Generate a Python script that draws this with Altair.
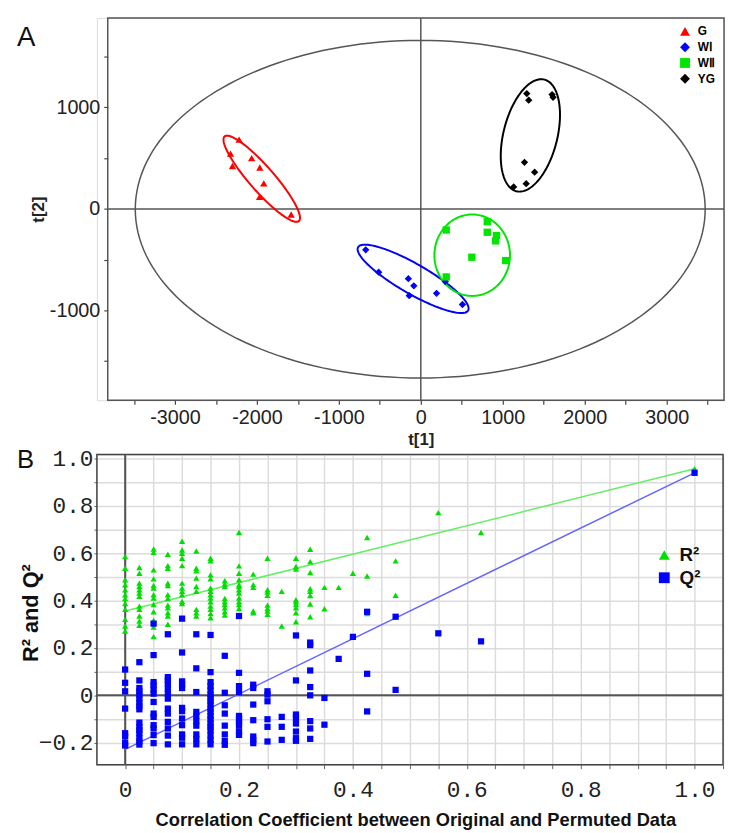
import numpy as np
import pandas as pd
import altair as alt

# ---------------- Panel A: PCA score plot ----------------
group_names = ["G", "WⅠ", "WⅡ", "YG"]
group_colors = ["#ff0000", "#0000ff", "#00e600", "#000000"]
group_shapes = ["triangle-up", "diamond", "square", "diamond"]

g_t1 = [-2217, -2322, -2298, -2064, -1964, -1916, -1967, -1582]
g_t2 = [683, 544, 423, 501, 408, 252, 119, -55]
wi_t1 = [-672, -514, -152, -85, -141, 192, 508, 299]
wi_t2 = [-403, -623, -687, -758, -855, -832, -942, -716]
wii_t1 = [310, 811, 811, 924, 912, 623, 1036, 310]
wii_t2 = [-208, -126, -230, -262, -315, -476, -509, -670]
yg_t1 = [1293, 1317, 1602, 1614, 1265, 1389, 1133, 1286]
yg_t2 = [1136, 1071, 1126, 1100, 459, 362, 217, 249]

# ellipses: centre and two half-axis vectors, in data units
ellipse_names = ["Hotelling", "G", "WⅠ", "WⅡ", "YG"]
ellipse_c1 = [-7, -1941, -94, 627, 1337]
ellipse_c2 = [-3, 297, -689, -456, 724]
ellipse_a1 = [3477, 453, 671, 461, 170]
ellipse_a2 = [0, -417, -312, 0, 550]
ellipse_b1 = [0, 113, 91, 0, 319]
ellipse_b2 = [1663, 80, 127, 401, -64]
ellipse_colors = ["#555555", "#ff0000", "#0000ff", "#00e600", "#000000"]
ellipse_widths = [1.5, 2, 2, 2, 2]

# ---------------- Panel B: permutation test ----------------
perm_x = [0.0, 0.025, 0.05, 0.075, 0.1, 0.125, 0.15, 0.175, 0.2, 0.225, 0.25,
          0.275, 0.3, 0.325, 0.35, 0.375, 0.4, 0.425, 0.475, 0.55, 0.625, 1.0]
r2_perm = [
    [0.586, 0.537, 0.488, 0.467, 0.446, 0.425, 0.409, 0.388, 0.363, 0.321, 0.293, 0.272],
    [0.540, 0.516, 0.474, 0.460, 0.446, 0.432, 0.418, 0.377, 0.363, 0.335, 0.314, 0.296],
    [0.618, 0.604, 0.530, 0.492, 0.464, 0.453, 0.425, 0.411, 0.384, 0.353, 0.317, 0.289, 0.248],
    [0.596, 0.548, 0.537, 0.474, 0.464, 0.425, 0.409, 0.381, 0.370, 0.349, 0.335, 0.300],
    [0.651, 0.614, 0.600, 0.579, 0.548, 0.474, 0.453, 0.439, 0.425, 0.397, 0.388],
    [0.610, 0.537, 0.526, 0.495, 0.460, 0.439, 0.363, 0.349, 0.335],
    [0.579, 0.568, 0.509, 0.492, 0.453, 0.439, 0.425, 0.411, 0.395, 0.377, 0.363, 0.345, 0.328],
    [0.484, 0.470, 0.460, 0.409, 0.395, 0.384, 0.370, 0.353, 0.339],
    [0.688, 0.547, 0.516, 0.488, 0.467, 0.460, 0.446, 0.432, 0.411, 0.395, 0.384, 0.367],
    [0.512, 0.467, 0.456, 0.356, 0.349],
    [0.579, 0.446, 0.436, 0.423, 0.381, 0.367, 0.356, 0.342],
    [0.439, 0.293],
    [0.579, 0.544, 0.533, 0.404, 0.395, 0.384, 0.370, 0.349, 0.311],
    [0.617, 0.565, 0.519, 0.450, 0.439, 0.422, 0.386, 0.332],
    [0.456, 0.366],
    [0.456],
    [0.516],
    [0.667, 0.504, 0.345],
    [0.568, 0.423],
    [0.772],
    [0.688],
    [0.957],
]
q2_perm = [
    [0.109, 0.053, 0.017, -0.056, -0.160, -0.174, -0.202, -0.212],
    [0.140, 0.063, 0.031, 0.017, 0.003, -0.014, -0.031, -0.045, -0.059, -0.115, -0.133, -0.147, -0.160, -0.181, -0.195, -0.208],
    [0.303, 0.170, 0.056, 0.042, 0.025, 0.007, -0.028, -0.077, -0.091, -0.126, -0.140, -0.168, -0.202],
    [0.258, 0.077, 0.063, 0.049, 0.028, 0.007, -0.014, -0.056, -0.077, -0.112, -0.140, -0.170, -0.207],
    [0.324, 0.181, 0.059, 0.045, 0.031, -0.053, -0.067, -0.098, -0.126, -0.165, -0.179, -0.207],
    [0.258, 0.114, 0.014, -0.070, -0.087, -0.109, -0.128, -0.165, -0.184, -0.207],
    [0.255, 0.098, 0.056, 0.039, 0.021, 0.003, -0.011, -0.025, -0.039, -0.056, -0.070, -0.087, -0.101, -0.119, -0.133, -0.147, -0.168, -0.188, -0.207],
    [0.167, 0.011, -0.042, -0.077, -0.128, -0.165, -0.193, -0.209],
    [0.335, 0.095, 0.039, 0.014, -0.087, -0.101, -0.115, -0.128, -0.153, -0.167],
    [0.045, 0.031, -0.039, -0.105, -0.174, -0.188, -0.202],
    [0.017, 0.003, -0.025, -0.101, -0.133, -0.195],
    [-0.091, -0.133, -0.188],
    [0.253, 0.063, -0.081, -0.095, -0.119, -0.153, -0.181, -0.192],
    [0.223, 0.212, 0.105, 0.035, 0.000, -0.109, -0.140, -0.184],
    [-0.011, -0.124],
    [0.154],
    [0.247],
    [0.353, 0.091, -0.068],
    [0.332, 0.023],
    [0.262],
    [0.228],
    [0.940],
]
series_names = ["R²", "Q²"]
series_colors = ["#00e000", "#0000ff"]
series_shapes = ["triangle-up", "square"]
fit_names = ["R² fit", "Q² fit"]
line_x = [0.0, 1.0]
r2_line = [0.356, 0.957]
q2_line = [-0.228, 0.940]
line_colors = ["#66ee66", "#6666ff"]

# ---------------- build tables ----------------
score_df = pd.DataFrame({
    "t1": g_t1 + wi_t1 + wii_t1 + yg_t1,
    "t2": g_t2 + wi_t2 + wii_t2 + yg_t2,
    "group": [group_names[0]] * len(g_t1) + [group_names[1]] * len(wi_t1)
             + [group_names[2]] * len(wii_t1) + [group_names[3]] * len(yg_t1),
})

theta = np.linspace(0, 2 * np.pi, 181)
ell_rows = []
for i, nm in enumerate(ellipse_names):
    for k, t in enumerate(theta):
        ell_rows.append({
            "name": nm, "k": k, "w": ellipse_widths[i],
            "t1": ellipse_c1[i] + ellipse_a1[i] * np.cos(t) + ellipse_b1[i] * np.sin(t),
            "t2": ellipse_c2[i] + ellipse_a2[i] * np.cos(t) + ellipse_b2[i] * np.sin(t),
        })
ell_df = pd.DataFrame(ell_rows)

perm_rows = []
for x, vals in zip(perm_x, r2_perm):
    for v in vals:
        perm_rows.append({"cc": x, "val": v, "series": series_names[0]})
for x, vals in zip(perm_x, q2_perm):
    for v in vals:
        perm_rows.append({"cc": x, "val": v, "series": series_names[1]})
perm_df = pd.DataFrame(perm_rows)

line_df = pd.DataFrame({
    "cc": line_x + line_x,
    "val": r2_line + q2_line,
    "fit": [fit_names[0]] * 2 + [fit_names[1]] * 2,
})

FONT = "Liberation Sans"
MONO = "Liberation Mono"

# ---------------- Panel A chart ----------------
WA, HA = 635, 387
A_LEFT = 11
xdomA = [-3820, 3700]
ydomA = [-1885, 1880]

scAx = alt.Scale(domain=xdomA, range=[A_LEFT, WA], nice=False, zero=False)
scAy = alt.Scale(domain=ydomA, nice=False, zero=False)
axAx = alt.Axis(values=list(range(-3500, 3501, 500)),
                labelExpr="datum.value % 1000 === 0 ? toString(datum.value) : ''",
                grid=False, domain=False, tickSize=4, tickColor="#444444", tickWidth=1.2,
                labelFont=FONT, labelFontSize=20, labelColor="#222222", labelPadding=4,
                title="t[1]", titleFont=FONT, titleFontSize=17, titleFontWeight="bold",
                titleColor="#222222", titleX=328, titleY=40, titleBaseline="middle")
axAy = alt.Axis(values=list(range(-1500, 1501, 500)), offset=-A_LEFT,
                labelExpr="datum.value % 1000 === 0 ? toString(datum.value) : ''",
                grid=False, domain=False, tickSize=4, tickColor="#444444", tickWidth=1.2,
                labelFont=FONT, labelFontSize=20, labelColor="#222222", labelPadding=4,
                title="t[2]", titleFont=FONT, titleFontSize=17, titleFontWeight="bold",
                titleColor="#222222", titleX=-70.5, titleY=HA / 2, titleBaseline="middle")

def XA(f):
    return alt.X(f, scale=scAx, axis=axAx)

def YA(f):
    return alt.Y(f, scale=scAy, axis=axAy)

frameA_df = pd.DataFrame({"t1": [xdomA[0]], "t1e": [xdomA[1]], "t2": [ydomA[0]], "t2e": [ydomA[1]]})
vruleA_df = pd.DataFrame({"t1": [0], "t2": [ydomA[0]], "t2e": [ydomA[1]]})
hruleA_df = pd.DataFrame({"t2": [0], "t1": [xdomA[0]], "t1e": [xdomA[1]]})

frameA = alt.Chart(frameA_df).mark_rect(fill="transparent", stroke="#555555", strokeWidth=1.5).encode(
    x=XA("t1:Q"), x2="t1e:Q", y=YA("t2:Q"), y2="t2e:Q")
vruleA = alt.Chart(vruleA_df).mark_rule(color="#555555", strokeWidth=1.5).encode(
    x=XA("t1:Q"), y=YA("t2:Q"), y2="t2e:Q")
hruleA = alt.Chart(hruleA_df).mark_rule(color="#555555", strokeWidth=1.5).encode(
    y=YA("t2:Q"), x=XA("t1:Q"), x2="t1e:Q")
ellA = alt.Chart(ell_df).mark_line().encode(
    x=XA("t1:Q"), y=YA("t2:Q"),
    detail="name:N",
    order="k:Q",
    stroke=alt.Stroke("name:N", scale=alt.Scale(domain=ellipse_names, range=ellipse_colors), legend=None),
    strokeWidth=alt.StrokeWidth("w:Q", scale=None),
)
legA = alt.Legend(title=None, orient="none", legendX=589.5, legendY=7.5, symbolSize=100,
                  labelFontSize=12, labelFontWeight="bold", labelColor="#000000", labelFont=FONT,
                  rowPadding=4, labelOffset=7, padding=0)
pointsA = alt.Chart(score_df).mark_point(filled=True, size=55, opacity=1).encode(
    x=XA("t1:Q"), y=YA("t2:Q"),
    color=alt.Color("group:N", scale=alt.Scale(domain=group_names, range=group_colors), legend=legA),
    shape=alt.Shape("group:N", scale=alt.Scale(domain=group_names, range=group_shapes), legend=legA),
)
labA = alt.Chart(pd.DataFrame({"panel": ["A"]})).mark_text(
    align="left", baseline="alphabetic", font=FONT, fontSize=28, color="#111111"
).encode(x=alt.value(-81), y=alt.value(28.6), text="panel:N")

panelA = alt.layer(frameA, vruleA, hruleA, ellA, pointsA, labA).properties(width=WA, height=HA)

# ---------------- Panel B chart ----------------
WB, HB = 634, 314
xdomB = [-0.0496, 1.05]
ydomB = [-0.293, 1.017]
x_ticks_B = [round(0.05 * i, 2) for i in range(0, 22)]
y_ticks_B = [round(-0.2 + 0.1 * i, 1) for i in range(0, 13)]

scBx = alt.Scale(domain=xdomB, nice=False, zero=False)
scBy = alt.Scale(domain=ydomB, nice=False, zero=False)
axBx = alt.Axis(values=x_ticks_B,
                labelExpr="abs(round(datum.value*100)) % 20 === 0 ? (datum.value === 0 ? '0' : format(datum.value, '.1f')) : ''",
                grid=True, gridColor="#dcdcdc", gridWidth=1.5, domain=False,
                tickSize=4, tickColor="#666666", tickWidth=1,
                labelFont=MONO, labelFontSize=23, labelColor="#222222", labelPadding=10,
                title="Correlation Coefficient between Original and Permuted Data",
                titleFont=FONT, titleFontSize=18.5, titleFontWeight="bold", titleColor="#111111",
                titleX=322.5, titleY=56, titleBaseline="middle")
axBy = alt.Axis(values=y_ticks_B,
                labelExpr="abs(round(datum.value*10)) % 2 === 0 ? (datum.value === 0 ? '0' : format(datum.value, '.1f')) : ''",
                grid=True, gridColor="#dcdcdc", gridWidth=1.5, domain=False,
                tickSize=3, tickColor="#666666", tickWidth=1,
                labelFont=MONO, labelFontSize=23, labelColor="#222222", labelPadding=1,
                title="R² and Q²", titleFont=FONT, titleFontSize=22, titleFontWeight="bold",
                titleColor="#111111", titleX=-67.5, titleY=160, titleBaseline="middle")

def XB(f):
    return alt.X(f, scale=scBx, axis=axBx)

def YB(f):
    return alt.Y(f, scale=scBy, axis=axBy)

frameB_df = pd.DataFrame({"cc": [xdomB[0]], "cce": [xdomB[1]], "val": [ydomB[0]], "vale": [ydomB[1]]})
vruleB_df = pd.DataFrame({"cc": [0.0], "val": [ydomB[0]], "vale": [ydomB[1]]})
hruleB_df = pd.DataFrame({"val": [0.0], "cc": [xdomB[0]], "cce": [xdomB[1]]})

frameB = alt.Chart(frameB_df).mark_rect(fill="transparent", stroke="#444444", strokeWidth=1.5).encode(
    x=XB("cc:Q"), x2="cce:Q", y=YB("val:Q"), y2="vale:Q")
vruleB = alt.Chart(vruleB_df).mark_rule(color="#555555", strokeWidth=2).encode(
    x=XB("cc:Q"), y=YB("val:Q"), y2="vale:Q")
hruleB = alt.Chart(hruleB_df).mark_rule(color="#555555", strokeWidth=2).encode(
    y=YB("val:Q"), x=XB("cc:Q"), x2="cce:Q")
linesB = alt.Chart(line_df).mark_line(strokeWidth=1.5).encode(
    x=XB("cc:Q"), y=YB("val:Q"),
    stroke=alt.Stroke("fit:N", scale=alt.Scale(domain=fit_names, range=line_colors), legend=None),
)
legB = alt.Legend(title=None, orient="none", legendX=565, legendY=92.2, symbolSize=120,
                  labelFontSize=19, labelFontWeight="bold", labelColor="#111111", labelFont=FONT,
                  rowPadding=3, labelOffset=6, padding=0)
pointsB = alt.Chart(perm_df).mark_point(filled=True, size=40, opacity=1).encode(
    x=XB("cc:Q"), y=YB("val:Q"),
    color=alt.Color("series:N", scale=alt.Scale(domain=series_names, range=series_colors), legend=legB),
    shape=alt.Shape("series:N", scale=alt.Scale(domain=series_names, range=series_shapes), legend=legB),
)
labB = alt.Chart(pd.DataFrame({"panel": ["B"]})).mark_text(
    align="left", baseline="alphabetic", font=FONT, fontSize=26, color="#111111"
).encode(x=alt.value(-81), y=alt.value(13.4), text="panel:N")

panelB = alt.layer(frameB, vruleB, hruleB, linesB, pointsB, labB).properties(width=WB, height=HB)

chart = alt.vconcat(panelA, panelB, spacing=55, bounds="flush").resolve_scale(
    color="independent", shape="independent", stroke="independent", x="independent", y="independent"
).resolve_legend(color="independent", shape="independent").properties(
    padding={"left": 8, "top": 3, "right": 0, "bottom": 0}
).configure_view(strokeWidth=0, stroke="transparent", fill="transparent").configure(font=FONT)

chart.save("out.html", embed_options={"renderer": "svg", "actions": False})
